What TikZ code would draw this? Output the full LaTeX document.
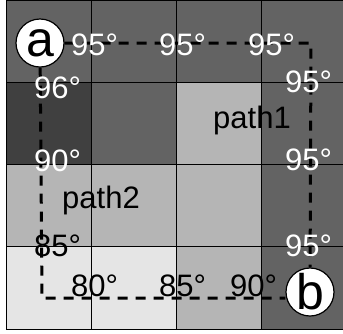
\documentclass[tikz,border=0pt]{standalone}
\usepackage{fontspec}
\setmainfont{Liberation Sans}
\definecolor{darkcell}{gray}{0.25}
\definecolor{midcell}{gray}{0.39}
\definecolor{lightcell}{gray}{0.71}
\definecolor{palecell}{gray}{0.90}
\tikzset{
  cell/.style={draw=black,line width=0.8pt},
  angle/.style={anchor=base west,inner sep=0pt,font=\fontsize{31}{31}\selectfont},
  endpt/.style={circle,draw=black,line width=1.2pt,fill=white,minimum size=48pt,inner sep=0pt,font=\fontsize{50}{50}\selectfont},
  route/.style={line width=3pt,dash pattern=on 10pt off 8pt}
}
\begin{document}
\begin{tikzpicture}[x=1pt,y=-1pt]
\useasboundingbox (0,0) rectangle (343,333);
\clip (0,0) rectangle (343,333);
\fill[white] (0,0) rectangle (343,333);
% grid of cells
\foreach \col/\row/\shade in {0/0/midcell,1/0/midcell,2/0/midcell,3/0/midcell,
  0/1/darkcell,1/1/midcell,2/1/lightcell,3/1/midcell,
  0/2/lightcell,1/2/lightcell,2/2/lightcell,3/2/midcell,
  0/3/palecell,1/3/palecell,2/3/lightcell,3/3/midcell}
  \draw[cell,fill=\shade] (6+85.25*\col,82.25*\row) rectangle ++(85.25,82.25);
% end points
\node[endpt] (a) at (40,43) {a};
\node[endpt] (b) at (310,292) {b};
\coordinate (ne) at (311,43);
\coordinate (sw) at (42,298);
\draw[route] (a) -- (ne) -- (b);
\draw[route] (a) -- (sw) -- (b.west |- sw);
% angles
\node[angle,white] (t1) at (71,55) {95°};
\node[angle,white] (t2) at (159,55) {95°};
\node[angle,white] (t3) at (248,55) {95°};
\node[angle,white] (r1) at (285,92) {95°};
\node[angle,white] (r2) at (285,170) {95°};
\node[angle,white] (r3) at (285,256) {95°};
\node[angle,white] (l1) at (34,98) {96°};
\node[angle,white] (l2) at (34,171) {90°};
\node[angle] (l3) at (34,256) {85°};
\node[angle] (d1) at (71,296) {80°};
\node[angle] (d2) at (159,296) {85°};
\node[angle] (d3) at (230,296) {90°};
\node[angle] (p1) at (213,128) {path1};
\node[angle] (p2) at (62,208) {path2};
\end{tikzpicture}
\end{document}
